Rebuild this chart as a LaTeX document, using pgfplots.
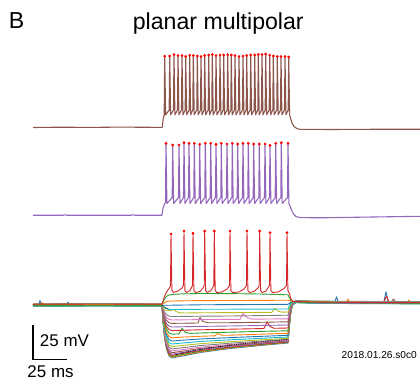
\documentclass[border=0pt]{standalone}
\usepackage{fontspec}
\setmainfont{Liberation Sans}
\usepackage{pgfplots}
\pgfplotsset{compat=1.18}
\definecolor{tblue}{HTML}{1F77B4}
\definecolor{torange}{HTML}{FF7F0E}
\definecolor{tgreen}{HTML}{2CA02C}
\definecolor{tred}{HTML}{D62728}
\definecolor{tpurple}{HTML}{9467BD}
\definecolor{tbrown}{HTML}{8C564B}
\definecolor{tpink}{HTML}{E377C2}
\definecolor{tgray}{HTML}{7F7F7F}
\definecolor{tolive}{HTML}{BCBD22}
\definecolor{tcyan}{HTML}{17BECF}
\begin{document}
\begin{tikzpicture}
\useasboundingbox (0,0) rectangle (420bp,382bp);
\begin{axis}[at={(0,0)}, anchor=south west, width=420bp, height=382bp, scale only axis,
  xmin=0, xmax=420, ymin=0, ymax=382, y dir=reverse, hide axis, clip=false,
  every axis plot/.append style={line join=round}]
% ---- step family (bottom panel) ----
\addplot[tblue, line width=0.9bp] coordinates {(33,305.8)(38.5,305.8)(40,300.5)(41.5,305.8)(66.5,305.8)(68,302)(69.5,305.8)(100,305.6)(162,305.8)(163,321.5)(164.5,337.1)(166.5,349.1)(169,355.9)(172,358)(176,357.1)(185,355.5)(200,352.5)(230,348.5)(260,345.5)(288,343)(289.5,324.7)(291,310.4)(293,304.3)(296,302.3)(310,302.8)(334.5,303)(336.5,296.7)(338.5,303)(380,303.3)(383.5,303.3)(386,291.7)(388.5,303.3)(420,303.5)};
\addplot[torange, line width=0.9bp] coordinates {(33,305.4)(40.5,305.4)(42,302.5)(43.5,305.4)(100,305.2)(162,305.4)(163,320.9)(164.5,336.5)(166.5,348.4)(169,355.1)(172,357.2)(176,356.4)(185,354.8)(200,352)(230,348)(260,345)(288,342.6)(289.5,324.3)(291,310)(293,303.9)(296,301.9)(310,302.4)(340,302.7)(346,302.7)(348,299)(350,302.7)(380,302.9)(407,303)(409,300)(411,303)(420,303.1)};
\addplot[tgreen, line width=0.9bp] coordinates {(33,306.2)(100,306)(162,306.2)(163,321.3)(164.5,336.3)(166.5,347.9)(169,354.4)(172,356.4)(176,355.6)(185,354)(200,351.3)(230,347.5)(260,344.6)(288,342.2)(289.5,324.4)(291,310.6)(293,304.7)(296,302.7)(310,303.2)(340,303.5)(380,303.7)(420,303.9)};
\addplot[tred, line width=0.9bp] coordinates {(33,304.4)(100,304.2)(162,304.4)(163,319.7)(164.5,335)(166.5,346.7)(169,353.4)(172,355.4)(176,354.6)(185,353)(200,350.5)(230,347)(260,344.2)(288,341.8)(289.5,323.4)(291,309.1)(293,303)(296,300.9)(310,301.4)(340,301.7)(380,301.9)(384,301.9)(386.5,296)(389,302)(420,302.1)};
\addplot[tpurple, line width=0.9bp] coordinates {(33,305.2)(100,305)(162,305.2)(163,319.9)(164.5,334.6)(166.5,345.9)(169,352.2)(172,354.2)(176,353.4)(185,352)(200,349.6)(230,346.3)(260,343.6)(288,341.3)(289.5,323.5)(291,309.6)(293,303.7)(296,301.7)(310,302.2)(340,302.5)(380,302.7)(420,302.9)};
\addplot[tbrown, line width=0.9bp] coordinates {(33,304.8)(100,304.6)(162,304.8)(163,319.2)(164.5,333.6)(166.5,344.6)(169,350.9)(172,352.8)(176,352.1)(185,350.8)(200,348.5)(230,345.5)(260,343)(288,340.7)(289.5,323)(291,309.2)(293,303.3)(296,301.3)(310,301.8)(340,302.1)(380,302.3)(391,302.3)(393.5,299)(396,302.4)(420,302.5)};
\addplot[tpink, line width=0.9bp] coordinates {(33,305.6)(100,305.4)(162,305.6)(163,319.2)(164.5,332.8)(166.5,343.3)(169,349.2)(172,351)(176,350.4)(185,349.2)(200,347.2)(230,344.5)(260,342.2)(288,340)(289.5,322.9)(291,309.7)(293,304)(296,302.1)(310,302.6)(340,302.9)(380,303.1)(420,303.3)};
\addplot[tgray, line width=0.9bp] coordinates {(33,304)(100,303.8)(162,304)(163,317.5)(164.5,331)(166.5,341.4)(169,347.2)(172,349)(176,348.4)(185,347.4)(200,345.6)(230,343.2)(260,341.2)(288,339.2)(289.5,321.8)(291,308.2)(293,302.4)(296,300.5)(310,301)(340,301.3)(380,301.5)(420,301.7)};
\addplot[tolive, line width=0.9bp] coordinates {(33,305)(100,304.8)(162,305)(163,317.5)(164.5,330)(166.5,339.5)(169,344.9)(172,346.6)(176,346.1)(185,345.2)(200,343.7)(230,341.7)(260,340)(288,338.3)(289.5,321.7)(291,308.9)(293,303.3)(296,301.5)(310,302)(340,302.3)(380,302.5)(420,302.7)};
\addplot[tcyan, line width=0.9bp] coordinates {(33,306)(100,305.8)(162,306)(163,317.4)(164.5,328.8)(166.5,337.5)(169,342.5)(172,344)(176,343.6)(185,342.8)(200,341.5)(230,339.8)(260,338.4)(288,337)(289.5,321.5)(291,309.4)(293,304.2)(296,302.5)(310,303)(340,303.3)(380,303.5)(420,303.7)};
\addplot[tblue, line width=0.9bp] coordinates {(33,304.6)(100,304.4)(162,304.6)(163,315.5)(164.5,326.4)(166.5,334.8)(169,339.5)(172,341)(176,340.7)(185,340)(200,339)(230,337.6)(260,336.4)(288,335.3)(289.5,319.9)(291,307.9)(293,302.8)(296,301.1)(310,301.6)(340,301.9)(380,302.1)(420,302.3)};
\addplot[torange, line width=0.9bp] coordinates {(33,305.4)(100,305.2)(162,305.4)(163,315.1)(164.5,324.8)(166.5,332.3)(169,336.5)(172,337.8)(176,337.5)(185,337)(200,336.3)(215,335.8)(218,333.5)(222,335.3)(230,335.2)(260,334.2)(288,333.3)(289.5,319.2)(291,308.2)(293,303.5)(296,301.9)(310,302.4)(340,302.7)(380,302.9)(420,303.1)};
\addplot[tgreen, line width=0.9bp] coordinates {(33,304.2)(100,304)(162,304.2)(163,313.2)(164.5,322.2)(166.5,329.1)(169,333)(172,334.2)(176,334)(179,333.8)(182,328.5)(185.5,332.5)(190,333.4)(200,333)(230,332.2)(260,331.4)(288,330.8)(289.5,317.3)(291,306.7)(293,302.2)(296,300.7)(310,301.2)(340,301.5)(380,301.7)(420,301.9)};
\addplot[tred, line width=0.9bp] coordinates {(33,305.2)(100,305)(162,305.2)(163,312.8)(164.5,320.4)(166.5,326.3)(169,329.6)(172,330.6)(176,330.5)(185,330.2)(200,329.8)(230,329.2)(260,328.6)(264,328.5)(267,322)(270,326.5)(274,328.3)(288,328)(289.5,316.2)(291,307)(293,303)(296,301.7)(310,302.2)(340,302.5)(380,302.7)(420,302.9)};
\addplot[tpurple, line width=0.9bp] coordinates {(33,305.8)(100,305.6)(162,305.8)(163,312.2)(164.5,318.5)(166.5,323.4)(169,326.2)(172,327)(176,326.9)(185,326.7)(200,326.4)(230,326)(260,325.5)(288,325)(289.5,314.8)(291,306.8)(293,303.4)(296,302.3)(310,302.8)(340,303.1)(380,303.3)(420,303.5)};
\addplot[tbrown, line width=0.9bp] coordinates {(33,304.8)(100,304.6)(162,304.8)(163,310.4)(164.5,316)(166.5,320.2)(169,322.7)(172,323.4)(176,323.3)(185,323.2)(198,323)(200,317.5)(203,321.5)(208,322.8)(230,322.7)(260,322.3)(288,321.8)(289.5,312.6)(291,305.4)(293,302.3)(296,301.3)(310,301.8)(340,302.1)(380,302.3)(420,302.5)};
\addplot[tpink, line width=0.9bp] coordinates {(33,304.4)(100,304.2)(162,304.4)(163,309.1)(164.5,313.8)(166.5,317.3)(169,319.4)(172,320)(176,319.9)(185,319.8)(200,319.6)(230,319.4)(240,319.3)(243,313.5)(247,317.5)(252,319.1)(260,319.1)(288,318.8)(289.5,310.7)(291,304.5)(293,301.8)(296,300.9)(310,301.4)(340,301.7)(380,301.9)(420,302.1)};
\addplot[tgray, line width=0.9bp] coordinates {(33,305.6)(100,305.4)(162,305.6)(163,308.9)(164.5,312.1)(166.5,314.6)(169,316.1)(172,316.5)(176,316.5)(185,316.4)(200,316.2)(230,316)(260,315.6)(288,315.2)(289.5,309.3)(291,304.7)(293,302.7)(296,302.1)(310,302.6)(340,302.9)(380,303.1)(420,303.3)};
\addplot[tolive, line width=0.9bp] coordinates {(33,305)(100,304.8)(162,305)(163,307.4)(164.5,309.8)(166.5,310.8)(169,310.5)(172,310.2)(174,309.5)(176,311.5)(180,312.8)(185,313)(200,312.8)(230,312.6)(260,312.4)(272,312.3)(274.5,308.5)(279,311.5)(282,312.2)(288,312)(289.5,307.3)(291,303.6)(293,302)(296,301.5)(310,302)(340,302.3)(380,302.5)(420,302.7)};
\addplot[tcyan, line width=0.9bp] coordinates {(33,304.6)(100,304.4)(162,304.6)(163,306.1)(164.5,307.5)(166.5,308.7)(169,309.3)(172,309.5)(176,309.5)(185,309.4)(200,309.3)(230,309.2)(260,309.1)(288,309)(289.5,305.4)(291,302.7)(293,301.5)(296,301.1)(310,301.6)(340,301.9)(380,302.1)(420,302.3)};
\addplot[tblue, line width=0.9bp] coordinates {(33,305.2)(100,305)(162,305.2)(172,305.2)(185,305)(200,304.8)(230,304.6)(260,304.5)(288,304.3)(289.5,303.2)(291,302.2)(293,301.8)(296,301.7)(310,302.2)(340,302.5)(380,302.7)(420,302.9)};
\addplot[torange, line width=0.9bp] coordinates {(33,304.8)(100,304.6)(162,304.8)(163,303.7)(164.5,302.5)(166.5,301.6)(169,301.2)(172,301)(176,300.9)(185,300.8)(200,300.6)(230,300.5)(260,300.4)(288,300.2)(289.5,300.7)(291,301.1)(293,301.3)(296,301.3)(310,301.8)(340,302.1)(380,302.3)(420,302.5)};
\addplot[tgreen, line width=0.9bp] coordinates {(33,305.4)(100,305.2)(162,305.4)(163,302.1)(164.5,298.9)(166.5,296.4)(169,295)(172,294.5)(176,294.2)(185,293.8)(200,293.5)(230,293.6)(260,294)(288,294.8)(289.5,298)(291,300.5)(293,301.6)(296,301.9)(310,302.4)(340,302.7)(380,302.9)(420,303.1)};
\addplot[tred, line width=0.9bp] coordinates {(33,304.2)(100,304)(162,304.2)(163,301)(164.5,296.5)(166.5,292)(169,288.5)(170.5,286)(171,234)(171.9,290)(173.5,292.5)(178,291)(182,288)(183.5,285.5)(184,231)(184.9,290.5)(186.5,292.5)(190,290.5)(192.5,285.5)(193,233.3)(193.9,290.5)(195.5,292.5)(200,291.5)(203,288)(204.2,285.5)(204.7,231)(205.6,290.5)(207.2,292.5)(211,290.5)(213.8,285.5)(214.3,231)(215.2,290.5)(216.8,292.5)(222,292)(227,289)(229.5,285.5)(230,231)(230.9,290.5)(232.5,292.5)(239,292)(244,289)(246.5,285.5)(247,231)(247.9,290.5)(249.5,292.5)(254,291.5)(258,288)(259.2,285.5)(259.7,231)(260.6,290.5)(262.2,292.5)(266,291)(269.5,285.5)(270,232.7)(270.9,290.5)(272.5,292.5)(278,292)(284,288.5)(286.5,285.5)(287,232.7)(287.9,290.5)(289.5,294)(291,299)(293,301.5)(296,301.5)(310,302)(340,302.3)(380,302.5)(420,302.7)};
% fits (black dotted)
\addplot[black, line width=0.8bp, densely dotted] coordinates {(162.5,305.5)(164,307)(166,308.2)(169,309)};
\addplot[black, line width=0.8bp, densely dotted] coordinates {(176,354.5)(185,352.5)(200,349.5)(230,345)(260,342)(288,339.5)};
% ---- middle trace (purple) ----
\addplot[tpurple, line width=1.1bp] coordinates {(33,215.2)(63,215.3)(65,214.8)(67,215.2)(100,215.3)(131,215.2)(133,214.8)(135,215.2)(162,215.2)(163,208)(164.5,204)(165.5,202.5)(166,143.3)(166.9,203.5)(172.2,197.5)(172.7,145)(173.6,203.5)(178.5,197.5)(179,145)(179.9,203.5)(183.5,197.5)(184,142.7)(184.9,203.5)(188.5,197.5)(189,143.3)(189.9,203.5)(193.8,197.5)(194.3,143.3)(195.2,203.5)(199.2,197.5)(199.7,144.3)(200.6,203.5)(204.8,197.5)(205.3,143.3)(206.2,203.5)(210.2,197.5)(210.7,143.3)(211.6,203.5)(215.5,197.5)(216,144.3)(216.9,203.5)(220.8,197.5)(221.3,143.3)(222.2,203.5)(226.5,197.5)(227,144)(227.9,203.5)(231.8,197.5)(232.3,143.3)(233.2,203.5)(237.2,197.5)(237.7,144)(238.6,203.5)(242.5,197.5)(243,143.3)(243.9,203.5)(247.8,197.5)(248.3,143.3)(249.2,203.5)(253.2,197.5)(253.7,144)(254.6,203.5)(258.8,197.5)(259.3,144)(260.2,203.5)(264.5,197.5)(265,144)(265.9,203.5)(269.5,197.5)(270,145.3)(270.9,203.5)(275.2,197.5)(275.7,143.3)(276.6,203.5)(280.8,197.5)(281.3,142.7)(282.2,203.5)(287.5,197.5)(288,143.3)(288.9,203.5)(290,206)(291.5,210)(293.5,214)(296,216.5)(300,217.6)(320,217.8)(360,217.2)(420,216.3)};
% ---- top trace (brown) ----
\addplot[tbrown, line width=1.1bp] coordinates {(33,127.5)(60,127.2)(90,127.4)(120,127.1)(150,127.3)(162.3,127.3)(163.2,118.5)(164.2,115.5)(164.7,56.2)(165.6,114.8)(169.2,110)(169.7,56)(170.6,114.8)(173.5,110)(174,54.5)(174.9,114.8)(177.5,110)(178,55.5)(178.9,114.8)(181.5,110)(182,55.5)(182.9,114.8)(185.2,110)(185.7,56.5)(186.6,114.8)(189.2,110)(189.7,55.3)(190.6,114.8)(192.8,110)(193.3,55.5)(194.2,114.8)(196.8,110)(197.3,56)(198.2,114.8)(200.5,110)(201,56.5)(201.9,114.8)(204.2,110)(204.7,55.5)(205.6,114.8)(208.2,110)(208.7,55)(209.6,114.8)(211.8,110)(212.3,54.5)(213.2,114.8)(215.5,110)(216,55.5)(216.9,114.8)(219.5,110)(220,55)(220.9,114.8)(223.2,110)(223.7,55)(224.6,114.8)(227.2,110)(227.7,54.7)(228.6,114.8)(230.8,110)(231.3,55)(232.2,114.8)(234.5,110)(235,55.5)(235.9,114.8)(238.5,110)(239,56.5)(239.9,114.8)(242.5,110)(243,56)(243.9,114.8)(246.2,110)(246.7,55.5)(247.6,114.8)(250.2,110)(250.7,55)(251.6,114.8)(254.2,110)(254.7,55)(255.6,114.8)(257.8,110)(258.3,54.5)(259.2,114.8)(261.5,110)(262,54.5)(262.9,114.8)(265.2,110)(265.7,54)(266.6,114.8)(269.2,110)(269.7,55.2)(270.6,114.8)(272.8,110)(273.3,56)(274.2,114.8)(276.8,110)(277.3,56.5)(278.2,114.8)(280.5,110)(281,56.5)(281.9,114.8)(284.5,110)(285,56.5)(285.9,114.8)(288.2,110)(288.7,57)(289.6,115)(290.5,118)(292,123)(294,126.5)(297,128.6)(300,129.3)(330,129.5)(370,129.3)(420,129.2)};
% ---- spike peak markers ----
\addplot[only marks, mark=*, mark size=1.2bp, mark options={fill=red, draw=red}] coordinates {(164.7,56.2)(169.7,56)(174,54.5)(178,55.5)(182,55.5)(185.7,56.5)(189.7,55.3)(193.3,55.5)(197.3,56)(201,56.5)(204.7,55.5)(208.7,55)(212.3,54.5)(216,55.5)(220,55)(223.7,55)(227.7,54.7)(231.3,55)(235,55.5)(239,56.5)(243,56)(246.7,55.5)(250.7,55)(254.7,55)(258.3,54.5)(262,54.5)(265.7,54)(269.7,55.2)(273.3,56)(277.3,56.5)(281,56.5)(285,56.5)(288.7,57)};
\addplot[only marks, mark=*, mark size=1.2bp, mark options={fill=red, draw=red}] coordinates {(166,143.3)(172.7,145)(179,145)(184,142.7)(189,143.3)(194.3,143.3)(199.7,144.3)(205.3,143.3)(210.7,143.3)(216,144.3)(221.3,143.3)(227,144)(232.3,143.3)(237.7,144)(243,143.3)(248.3,143.3)(253.7,144)(259.3,144)(265,144)(270,145.3)(275.7,143.3)(281.3,142.7)(288,143.3)};
\addplot[only marks, mark=*, mark size=1.2bp, mark options={fill=red, draw=red}] coordinates {(171,234)(184,231)(193,233.3)(204.7,231)(214.3,231)(230,231)(247,231)(259.7,231)(270,232.7)(287,232.7)};
% ---- scale bar ----
\addplot[black, line width=1.8bp, line join=miter] coordinates {(33.3,325)(33.3,359.5)(66.7,359.5)};
% ---- texts ----
\node[anchor=base west, inner sep=0pt, font=\fontsize{23.2}{28}\selectfont] at (axis cs:8.8,28.3) {B};
\node[anchor=base, inner sep=0pt, font=\fontsize{23.2}{28}\selectfont] at (axis cs:218.3,29.3) {planar multipolar};
\node[anchor=base west, inner sep=0pt, font=\fontsize{17}{20}\selectfont] at (axis cs:39.8,346.7) {25 mV};
\node[anchor=base west, inner sep=0pt, font=\fontsize{17}{20}\selectfont] at (axis cs:27.3,377.8) {25 ms};
\node[anchor=base west, inner sep=0pt, font=\fontsize{10.2}{12}\selectfont] at (axis cs:341.5,358.3) {2018.01.26.s0c0};
\end{axis}
\end{tikzpicture}
\end{document}
